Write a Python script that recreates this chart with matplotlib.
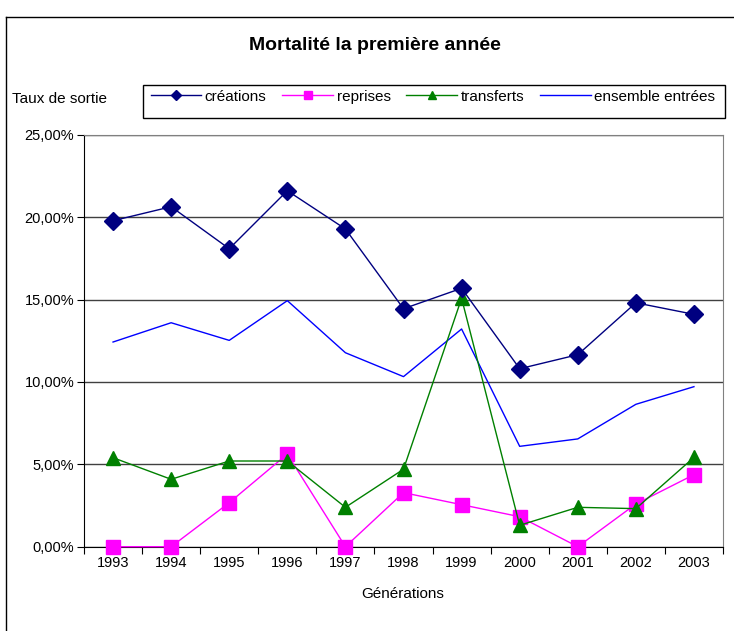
import matplotlib.pyplot as plt
from matplotlib.lines import Line2D
from matplotlib.patches import Rectangle

plt.rcParams['font.family'] = ['Liberation Sans', 'DejaVu Sans']

# Values (percent)
years = ['1993', '1994', '1995', '1996', '1997', '1998', '1999', '2000', '2001', '2002', '2003']
creations = [19.78, 20.63, 18.08, 21.6, 19.28, 14.44, 15.68, 10.8, 11.65, 14.8, 14.1]
reprises = [0.0, 0.0, 2.67, 5.62, 0.0, 3.28, 2.55, 1.82, 0.0, 2.59, 4.37]
transferts = [5.4, 4.09, 5.2, 5.2, 2.39, 4.7, 15.07, 1.3, 2.39, 2.31, 5.42]
ensemble = [12.42, 13.59, 12.52, 14.93, 11.77, 10.32, 13.21, 6.09, 6.54, 8.64, 9.71]
yticks = [0, 5, 10, 15, 20, 25]

W, H = 734, 631
fig = plt.figure(figsize=(W / 100, H / 100), dpi=100)
fig.patch.set_facecolor('white')

# plot area in pixels: x 84..723, y 134.7..546.7
ax = fig.add_axes([84 / W, (H - 546.7) / H, (723 - 84) / W, (546.7 - 134.7) / H])

x = [i + 0.5 for i in range(len(years))]

ax.plot(x, creations, color='#000080', lw=1, marker='D', ms=9, label='créations', clip_on=False, zorder=5)
ax.plot(x, reprises, color='#FF00FF', lw=1, marker='s', ms=10, label='reprises', clip_on=False, zorder=4)
ax.plot(x, transferts, color='#008000', lw=1, marker='^', ms=10, label='transferts', clip_on=False, zorder=4)
ax.plot(x, ensemble, color='#0000FF', lw=1, label='ensemble entrées', zorder=3)

ax.set_xlim(0, len(years))
ax.set_ylim(0, 25)

# category axis: ticks between categories, labels in the middle
ax.set_xticks(range(len(years) + 1))
ax.set_xticklabels([])
ax.set_xticks(x, minor=True)
ax.set_xticklabels(years, minor=True, fontsize=10.5)
ax.tick_params(axis='x', which='major', direction='out', length=5, color='black')
ax.tick_params(axis='x', which='minor', length=0, pad=7)

ax.set_yticks(yticks)
ax.set_yticklabels(['%d,00%%' % v for v in yticks], fontsize=10.5)
ax.tick_params(axis='y', direction='out', length=5, pad=2, color='black')

ax.grid(axis='y', color='#404040', lw=1)
ax.set_axisbelow(True)
for s in ['top', 'right']:
    ax.spines[s].set_color('#808080')
for s in ['left', 'bottom']:
    ax.spines[s].set_color('black')

# titles and labels
fig.text(375 / W, 1 - 45 / H, 'Mortalité la première année', fontsize=14, fontweight='bold',
         ha='center', va='center')
fig.text(12 / W, 1 - 99 / H, 'Taux de sortie', fontsize=11, ha='left', va='center')
fig.text(403 / W, 1 - 594 / H, 'Générations', fontsize=11, ha='center', va='center')

# legend box (drawn separately so its height matches the reference)
fig.add_artist(Rectangle((143 / W, 1 - 118 / H), (725 - 143) / W, 33 / H, transform=fig.transFigure,
                         fill=False, edgecolor='black', lw=1))
leg = fig.legend(loc='upper left', bbox_to_anchor=(146 / W, 1 - 118 / H, (720 - 146) / W, 33 / H),
                 mode='expand', ncol=4, fontsize=11, frameon=False,
                 handlelength=3.3, columnspacing=0.6, handletextpad=0.25,
                 borderpad=0.3, markerscale=0.6, borderaxespad=0)

# outer chart frame (left and top edges visible)
fig.add_artist(Line2D([6 / W, 6 / W], [0, 1 - 17 / H], color='black', lw=1))
fig.add_artist(Line2D([6 / W, 1], [1 - 17 / H, 1 - 17 / H], color='black', lw=1))

fig.savefig('out.png', dpi=100)
